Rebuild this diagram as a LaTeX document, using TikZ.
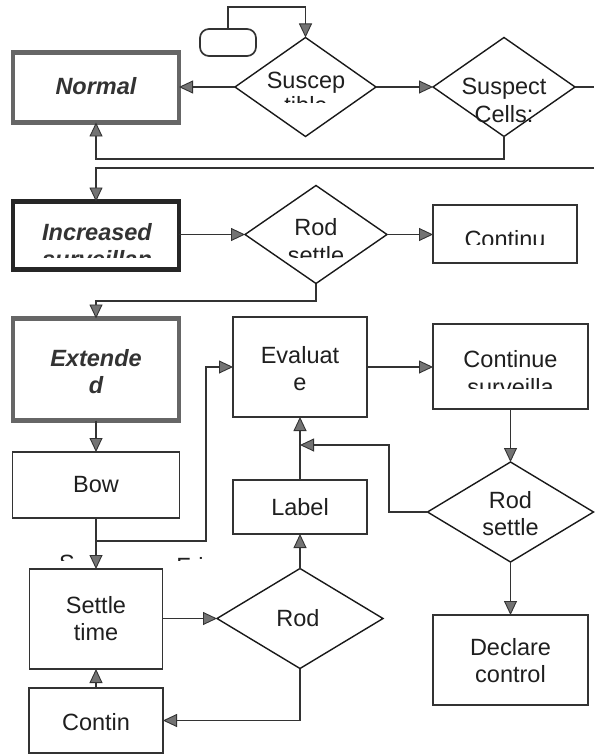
\documentclass[tikz,border=0pt]{standalone}
\usepackage{fontspec}
\setmainfont{Liberation Sans}
\usetikzlibrary{arrows.meta,shapes.geometric}
\begin{document}
\begin{tikzpicture}[x=1pt,y=-1pt,
  conn/.style={draw=black!80,line width=1.5pt},
  arr/.style={conn,-{Triangle[length=14pt,width=13pt,fill=black!55,line width=0.9pt]}},
  pbox/.style={draw=black!80,line width=1.7pt,rectangle,inner sep=0pt,outer sep=0pt},
  sbox/.style={draw=black!60,line width=4.5pt,rectangle,inner sep=0pt,outer sep=0pt},
  ibox/.style={draw=black!85,line width=4.5pt,rectangle,inner sep=0pt,outer sep=0pt},
  dia/.style={draw=black!90,line width=1.4pt,diamond,inner sep=0pt,outer sep=0pt},
  txt/.style={font=\fontsize{23.5}{27}\selectfont,text=black!88,inner sep=0pt,align=center},
  stxt/.style={font=\fontsize{23.5}{27}\selectfont\bfseries\itshape,text=black!80,inner sep=0pt,align=center}
]
\useasboundingbox[fill=white] (0,0) rectangle (594,754);

% ---- shapes ----
\node[pbox,rounded corners=9pt,minimum width=56pt,minimum height=27pt] (term) at (228,42.5) {};
\node[dia,minimum width=141pt,minimum height=99pt] (suscep) at (305.5,87) {};
\node[sbox,minimum width=166pt,minimum height=70pt] (normal) at (96,87.5) {};
\node[dia,minimum width=142pt,minimum height=99pt] (suspect) at (504,87) {};
\node[ibox,minimum width=166pt,minimum height=68pt] (increased) at (96,235.5) {};
\node[dia,minimum width=142pt,minimum height=98pt] (rodA) at (316,234.5) {};
\node[pbox,minimum width=144pt,minimum height=58pt] (continu) at (505,234) {};
\node[sbox,minimum width=166pt,minimum height=102pt] (extended) at (96,369.5) {};
\node[pbox,minimum width=134pt,minimum height=100pt] (evaluate) at (300,367) {};
\node[pbox,minimum width=155pt,minimum height=85pt] (contsurv) at (510.5,366.5) {};
\node[pbox,minimum width=167pt,minimum height=66pt] (bow) at (96,485) {};
\node[pbox,minimum width=134pt,minimum height=54pt] (label) at (300,507) {};
\node[dia,minimum width=166pt,minimum height=100pt] (rodB) at (510.5,512) {};
\node[pbox,minimum width=133pt,minimum height=100pt] (settle) at (96,619) {};
\node[dia,minimum width=166pt,minimum height=100pt] (rodC) at (300,618.5) {};
\node[pbox,minimum width=155pt,minimum height=90pt] (declare) at (510.5,660) {};
\node[pbox,minimum width=134pt,minimum height=65pt] (contin) at (96,720.5) {};

% ---- texts ----
\node[txt,anchor=base] (t-suscep) at (306,89) {Suscep};
\begin{scope}
  \clip (230,40) rectangle (380,103);
  \node[txt,anchor=base] (t-tible) at (306,114) {tible};
\end{scope}
\node[stxt] (t-normal) at (96,86) {Normal};
\node[txt,anchor=base] (t-suspect) at (504,95) {Suspect};
\node[txt,anchor=base] (t-cells) at (504,123) {Cells:};

\node[stxt,anchor=base] (t-incr) at (97,240) {Increased};
\begin{scope}
  \clip (20,200) rectangle (175,257);
  \node[stxt,anchor=base] (t-surv1) at (97,267) {surveillan};
\end{scope}
\node[txt,anchor=base] (t-rodA) at (316,235) {Rod};
\begin{scope}
  \clip (250,200) rectangle (380,257);
  \node[txt,anchor=base] (t-settleA) at (316,263) {settle};
\end{scope}
\begin{scope}
  \clip (440,210) rectangle (570,244);
  \node[txt,anchor=base] (t-continu) at (505,247) {Continu};
\end{scope}

\node[stxt,anchor=base] (t-ext1) at (96,366) {Extende};
\node[stxt,anchor=base] (t-ext2) at (96,393) {d};
\node[txt,anchor=base] (t-eval1) at (300,363) {Evaluat};
\node[txt,anchor=base] (t-eval2) at (300,390) {e};
\node[txt,anchor=base] (t-cont) at (510.5,367) {Continue};
\begin{scope}
  \clip (440,330) rectangle (585,388);
  \node[txt,anchor=base] (t-surv2) at (510.5,395) {surveilla};
\end{scope}

\node[txt] (t-bow) at (96,485) {Bow};
\node[txt] (t-label) at (300,507) {Label};
\node[txt,anchor=base] (t-rodB1) at (510.5,508) {Rod};
\node[txt,anchor=base] (t-rodB2) at (510.5,535) {settle};
\begin{scope}
  \clip (40,540) rectangle (220,560);
  \node[txt,anchor=base] (t-s) at (67,571) {S};
  \node[txt,anchor=base] (t-fri) at (190,574) {Fri};
\end{scope}
\node[txt] (t-settle) at (96,619) {Settle\\time};
\node[txt,anchor=base] (t-rodC) at (298,626) {Rod};
\node[txt] (t-declare) at (510.5,661) {Declare\\control};
\node[txt] (t-contin) at (96,722) {Contin};

% ---- helper coordinates ----
\coordinate (topY) at (228,7);
\coordinate (edgeA) at (594,87);
\coordinate (yA) at (0,159);
\coordinate (edgeB) at (594,168);
\coordinate (yB) at (0,301);
\coordinate (j1) at (96,541);
\coordinate (j2) at (206,541);
\coordinate (k1) at (389,512);
\coordinate (m1) at (300,445);

% ---- connectors ----
\draw[arr] (term.north) -- (topY) -| (suscep.north);
\draw[arr] (suscep.west) -- (suscep.west -| normal.east);
\draw[arr] (suscep.east) -- (suspect.west);
\draw[conn] (suspect.east) -- (edgeA);
\draw[arr] (suspect.south) -- (suspect.south |- yA) -| (normal.south);
\draw[arr] (edgeB) -| (increased.north);
\draw[arr] (increased.east |- rodA.west) -- (rodA.west);
\draw[arr] (rodA.east) -- (continu.west |- rodA.east);
\draw[arr] (rodA.south) -- (rodA.south |- yB) -| (extended.north);
\draw[arr] (extended.south) -- (bow.north);
\draw[arr] (bow.south) -- (settle.north);
\draw[arr] (j1) -- (j2) |- (evaluate.west);
\draw[arr] (evaluate.east) -- (contsurv.west |- evaluate.east);
\draw[arr] (contsurv.south) -- (rodB.north);
\draw[arr] (rodB.west) -- (k1) |- (m1);
\draw[arr] (label.north) -- (evaluate.south);
\draw[arr] (rodB.south) -- (declare.north);
\draw[arr] (settle.east |- rodC.west) -- (rodC.west);
\draw[arr] (rodC.north) -- (label.south);
\draw[arr] (rodC.south) |- (contin.east);
\draw[arr] (contin.north) -- (settle.south);
\end{tikzpicture}
\end{document}
